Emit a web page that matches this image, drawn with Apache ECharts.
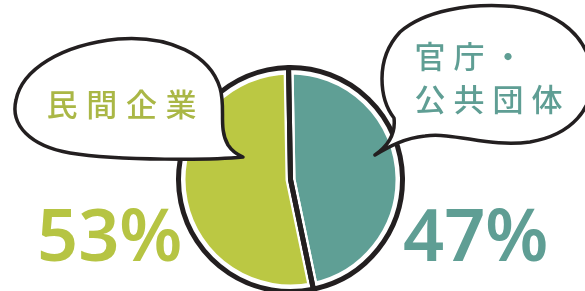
<!DOCTYPE html>
<html>
<head>
<meta charset="utf-8">
<script src="https://cdn.jsdelivr.net/npm/echarts@6/dist/echarts.min.js"></script>
<style>
  html, body { margin: 0; padding: 0; background: #fff; }
  #chart { width: 585px; height: 291px; }
</style>
</head>
<body>
<div id="chart"></div>
<script>
// 就職先の内訳 (%)
var categories = ['官庁・公共団体', '民間企業'];
var shares = [47, 53];

var INK = '#231f20';
var PIE_COLORS = ['#5f9f95', '#bbc843'];
var TEXT_COLORS = ['#5f9e94', '#aab746'];
var NUM_COLORS = ['#5f9e94', '#b6c443'];
var CJK = '"Noto Sans CJK JP", "Noto Sans CJK SC", sans-serif';

// speech bubble outlines (decoration only)
echarts.graphic.registerShape('bubbleLeft', echarts.graphic.extendPath(
  'M243,157 C215,160 120,161 70,153 C30,146 10,125 16,100 C22,70 60,45 118,39 ' +
  'C170,35 210,55 220,88 C226,108 218,128 228,145 C232,151 238,155 243,157 Z', {}));
echarts.graphic.registerShape('bubbleRight', echarts.graphic.extendPath(
  'M375,155 C388,146 396,135 394,118 C380,100 374,60 400,32 C425,10 470,4 505,6 ' +
  'C550,8 585,30 592,70 C596,110 570,135 530,142 C490,148 455,132 425,136 ' +
  'C405,138 390,146 375,155 Z', {}));

var chart = echarts.init(document.getElementById('chart'), null, {
  width: 585,
  height: 291
});

var cx = 290.5, cy = 179.5;

// one text element per character, so the wide handwritten spacing can be kept
function charRow(text, x0, step, y, color) {
  return text.split('').map(function (ch, i) {
    return {
      type: 'text',
      z: 110,
      silent: true,
      style: {
        text: ch,
        x: x0 + i * step,
        y: y,
        fill: color,
        font: '500 31px ' + CJK,
        textAlign: 'center',
        textVerticalAlign: 'middle'
      }
    };
  });
}

function bigNumber(text, x, y, color) {
  return {
    type: 'text',
    z: 110,
    silent: true,
    style: {
      text: text,
      x: x,
      y: y,
      fill: color,
      font: '600 72px "Noto Sans", sans-serif',
      textAlign: 'left',
      textVerticalAlign: 'middle'
    }
  };
}

function bubble(type) {
  return {
    type: type,
    z: 100,
    silent: true,
    style: { fill: '#fff', stroke: INK, lineWidth: 3.5, lineJoin: 'round' }
  };
}

var rightLines = categories[0].split(/(?<=・)/);
var leftLine = categories[1];

var pieData = categories.map(function (c, i) {
  return { name: c, value: shares[i], itemStyle: { color: PIE_COLORS[i] } };
});

var option = {
  backgroundColor: '#fff',
  animation: false,
  series: [
    {
      name: 'fill',
      type: 'pie',
      center: [cx, cy],
      radius: [0, 110],
      startAngle: 91,
      clockwise: true,
      silent: true,
      z: 1,
      label: { show: false },
      labelLine: { show: false },
      itemStyle: { borderColor: '#fff', borderWidth: 10 },
      data: pieData
    },
    {
      name: 'outline',
      type: 'pie',
      center: [cx, cy],
      radius: [0, 112],
      startAngle: 91,
      clockwise: true,
      silent: true,
      z: 2,
      label: { show: false },
      labelLine: { show: false },
      itemStyle: { color: 'rgba(0,0,0,0)', borderColor: INK, borderWidth: 5 },
      data: categories.map(function (c, i) { return { name: c, value: shares[i] }; })
    }
  ],
  graphic: {
    elements: [bubble('bubbleLeft'), bubble('bubbleRight')]
      .concat(charRow(leftLine, 62, 39.7, 104, TEXT_COLORS[1]))
      .concat(charRow(rightLines[0], 430, 39, 56, TEXT_COLORS[0]))
      .concat(charRow(rightLines[1], 430, 39, 99, TEXT_COLORS[0]))
      .concat([
        bigNumber(shares[1] + '%', 37, 240, NUM_COLORS[1]),
        bigNumber(shares[0] + '%', 403, 240, NUM_COLORS[0])
      ])
  }
};

chart.setOption(option);
</script>
</body>
</html>
